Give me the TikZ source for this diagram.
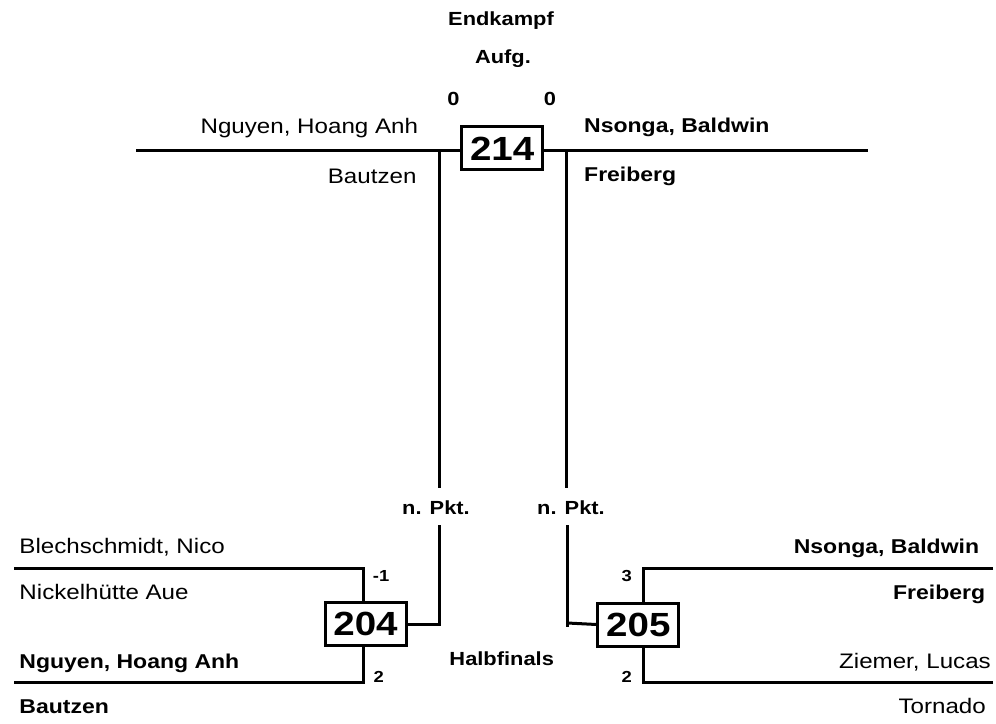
\documentclass[tikz,border=0pt]{standalone}
\usepackage{fontspec}
\setmainfont[FakeStretch=1.15]{Liberation Sans}
\begin{document}
\begin{tikzpicture}[x=1pt,y=-1pt,
  ln/.style={line width=3pt},
  matchbox/.style={draw,fill=white,line width=3pt,inner sep=0pt,minimum width=81pt,minimum height=43pt,font=\fontsize{33.5}{38}\selectfont\bfseries},
  plname/.style={inner sep=0pt,font=\fontsize{21}{25}\selectfont},
  bplname/.style={inner sep=0pt,font=\fontsize{20}{24}\selectfont\bfseries},
  lbl/.style={inner sep=0pt,font=\fontsize{19}{23}\selectfont\bfseries},
  scoretxt/.style={inner sep=0pt,font=\fontsize{16}{19}\selectfont\bfseries}]
\useasboundingbox (0,0) rectangle (996,723);

% headings
\node[lbl,anchor=base] (endk) at (501,25) {Endkampf};
\node[lbl,anchor=base] (aufg) at (503,63) {Aufg.};
\node[lbl,anchor=base] (s1) at (453.5,105) {0};
\node[lbl,anchor=base] (s2) at (550,105) {0};

% final
\coordinate (tl) at (136,150.3);
\coordinate (tr) at (868,150.3);
\coordinate (vl) at (439.3,150.3);
\coordinate (vr) at (566.7,150.3);
\draw[ln] (tl) -- (tr);
\node[matchbox] (b214) at (502.2,148.4) {214};
\node[plname,anchor=base east] (fa1) at (418.3,133.3) {Nguyen, Hoang Anh};
\node[plname,anchor=base east] (fa2) at (416.7,183) {Bautzen};
\node[bplname,anchor=base west] (fb1) at (584,132.3) {Nsonga, Baldwin};
\node[bplname,anchor=base west] (fb2) at (584,181) {Freiberg};

% n. Pkt. labels
\node[lbl,anchor=base] (pktl) at (436,514) {n. Pkt.};
\node[lbl,anchor=base] (pktr) at (571,514) {n. Pkt.};
\coordinate (vl2) at (439.3,488);
\coordinate (vr2) at (566.7,488);
\draw[ln] (vl) -- (vl2);
\draw[ln] (vr) -- (vr2);

% semifinal boxes
\node[matchbox] (b204) at (365.5,624.1) {204};
\node[matchbox] (b205) at (638.3,624.5) {205};
\node[lbl,anchor=base] (halb) at (501.7,665) {Halbfinals};

% connectors to final
\coordinate (cl) at (439.3,525);
\coordinate (cr) at (567.5,525);
\coordinate (crt) at (567.5,626.5);
\draw[ln] (cl) |- (b204.east);
\draw[ln] (cr) -- (crt);
\draw[ln] (crt |- b205.west) ++(0,-1.5) -- (b205.west);

% left bracket
\coordinate (v204) at (363.3,0);
\coordinate (lt) at (14,568.3);
\coordinate (lb) at (14,682);
\draw[ln] (lt) -| (b204.north -| v204);
\draw[ln] (lb) -| (b204.south -| v204);
\node[plname,anchor=base west] (la1) at (19.3,553.3) {Blechschmidt, Nico};
\node[plname,anchor=base west] (la2) at (19.3,599.5) {Nickelhütte Aue};
\node[bplname,anchor=base west] (lb1) at (19.3,668) {Nguyen, Hoang Anh};
\node[bplname,anchor=base west] (lb2) at (19.3,713) {Bautzen};
\node[scoretxt,anchor=base west] (sl1) at (372.7,581.7) {-1};
\node[scoretxt,anchor=base west] (sl2) at (373.5,682.7) {2};

% right bracket
\coordinate (v205) at (643,0);
\coordinate (rt) at (993,568.3);
\coordinate (rb) at (993,682);
\draw[ln] (rt) -| (b205.north -| v205);
\draw[ln] (rb) -| (b205.south -| v205);
\node[bplname,anchor=base east] (ra1) at (979.3,553.3) {Nsonga, Baldwin};
\node[bplname,anchor=base east] (ra2) at (985.3,599) {Freiberg};
\node[plname,anchor=base east] (rb1) at (991,668.5) {Ziemer, Lucas};
\node[plname,anchor=base east] (rb2) at (986,713) {Tornado};
\node[scoretxt,anchor=base east] (sr1) at (632,581.7) {3};
\node[scoretxt,anchor=base east] (sr2) at (632,682.7) {2};
\end{tikzpicture}
\end{document}
